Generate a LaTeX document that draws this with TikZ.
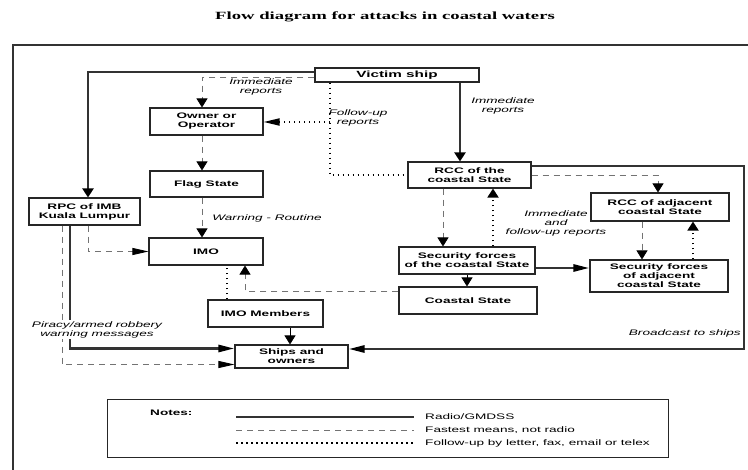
\documentclass[tikz,border=0pt]{standalone}
\usepackage{fontspec}
\setmainfont{Liberation Sans}[FakeStretch=1.7]
\newfontfamily\titlefont{Liberation Serif}[FakeStretch=1.7]
\usetikzlibrary{arrows.meta,calc}
\tikzset{
  vtip/.tip={Triangle[length=9pt,width=11pt,color=black]},
  htip/.tip={Triangle[length=16pt,width=7pt,color=black]},
  box/.style={draw=black!85, line width=1.1pt, inner sep=0pt, align=center, font=\fontsize{8}{9}\selectfont\bfseries},
  lab/.style={font=\fontsize{8}{9}\selectfont\itshape, align=center, inner sep=1pt},
  legtext/.style={font=\fontsize{8}{9}\selectfont, anchor=west, inner sep=0pt},
  radio/.style={draw=black!80, line width=2.6pt},
  fast/.style={draw=black!55, line width=0.8pt, dash pattern=on 6pt off 5pt},
  follow/.style={draw=black, line width=1.8pt, dash pattern=on 1.5pt off 3.5pt},
  plain/.style={draw=black, line width=0.8pt},
  frame/.style={draw=black!80, line width=1.2pt}
}
\begin{document}
\begin{tikzpicture}[x=1pt,y=-1pt]
\useasboundingbox (0,0) rectangle (748,470);

% title
\node[font=\titlefont\bfseries\fontsize{11}{12}\selectfont] (title) at (385,17) {Flow diagram for attacks in coastal waters};

% outer frame
\draw[frame] (13,470) -- (13,45) -- (748,45);

% nodes
\node[box, minimum width=164pt, minimum height=14pt, font=\fontsize{9}{10}\selectfont\bfseries] (victim) at (397,75) {Victim ship};
\node[box, minimum width=113pt, minimum height=27pt] (owner) at (206.5,121.5) {Owner or\\Operator};
\node[box, minimum width=113pt, minimum height=26pt] (flag) at (206.5,184) {Flag State};
\node[box, minimum width=111pt, minimum height=27pt] (rpc) at (84.5,211.5) {RPC of IMB\\Kuala Lumpur};
\node[box, minimum width=114pt, minimum height=27pt] (imo) at (206,251.5) {IMO};
\node[box, minimum width=115pt, minimum height=27pt] (members) at (265.5,313.5) {IMO Members};
\node[box, minimum width=113pt, minimum height=23pt] (ships) at (291.5,356.5) {Ships and\\owners};
\node[box, minimum width=123pt, minimum height=26pt] (rcc) at (469.5,175) {RCC of the\\coastal State};
\node[box, minimum width=138pt, minimum height=28pt] (rccadj) at (660,207) {RCC of adjacent\\coastal State};
\node[box, minimum width=136pt, minimum height=27pt] (sec) at (467,260.5) {Security forces\\of the coastal State};
\node[box, minimum width=138pt, minimum height=27pt] (coastal) at (468,300.5) {Coastal State};
\node[box, minimum width=138pt, minimum height=32pt] (secadj) at (659,276) {Security forces\\of adjacent\\coastal State};

% helper coordinates
\coordinate (xa) at (88,0);
\coordinate (xb) at (202,0);
\coordinate (xc) at (330,0);
\coordinate (xd) at (460,0);
\coordinate (xe) at (70,0);
\coordinate (xf) at (62,0);
\coordinate (xg) at (227,0);
\coordinate (xh) at (245,0);
\coordinate (xi) at (290,0);
\coordinate (xj) at (443,0);
\coordinate (xk) at (493,0);
\coordinate (xl) at (658,0);
\coordinate (xm) at (642,0);
\coordinate (xn) at (693,0);
\coordinate (fu) at (330,122);
\coordinate (bc) at (744,166);

% radio links
\draw[radio,-vtip] ([yshift=3pt]victim.west) -| (rpc.north -| xa);
\draw[radio,-vtip] (victim.south -| xd) -- (rcc.north -| xd);
\draw[radio,-htip] (rpc.south -| xe) |- ([yshift=8pt]ships.west);
\draw[radio,-htip] ([yshift=-7.5pt]sec.east) -- ([yshift=-7.5pt]sec.east -| secadj.west);
\draw[radio,-htip] ([yshift=9pt]rcc.east) -- (bc) |- ([yshift=7.5pt]ships.east);

% fastest means
\draw[fast,-vtip] ([yshift=-2pt]victim.west) -| (owner.north -| xb);
\draw[fast,-vtip] (owner.south -| xb) -- (flag.north -| xb);
\draw[fast,-vtip] (flag.south -| xb) -- (imo.north -| xb);
\draw[fast,-htip] (rpc.south -| xa) |- (imo.west);
\draw[fast,-htip] (rpc.south -| xf) |- ([yshift=-8pt]ships.west);
\draw[fast,-vtip] ([yshift=9.5pt]coastal.west) -| (imo.south -| xh);
\draw[fast,-vtip] (rcc.south -| xj) -- (sec.north -| xj);
\draw[fast,-vtip] (rcc.east) -| (rccadj.north -| xl);
\draw[fast,-vtip] (rccadj.south -| xm) -- (secadj.north -| xm);

% follow-up
\draw[follow] (victim.south -| xc) |- (rcc.west);
\draw[follow,-htip] (fu) -- (owner.east |- fu);
\draw[follow] (members.north -| xg) -- (imo.south -| xg);
\draw[follow,-vtip] (sec.north -| xk) -- (rcc.south -| xk);
\draw[follow,-vtip] (secadj.north -| xn) -- (rccadj.south -| xn);

% plain short arrows
\draw[plain,-vtip] (members.south -| xi) -- (ships.north -| xi);
\draw[plain,-vtip] (sec.south) -- (sec.south |- coastal.north);

% labels
\node[lab] (l1) at (261,87) {Immediate\\reports};
\node[lab] (l2) at (503,106) {Immediate\\reports};
\node[lab] (l3) at (358,118) {Follow-up\\reports};
\node[lab] (l4) at (267,218) {Warning - Routine};
\node[lab, fill=white] (l5) at (97,329.5) {Piracy/armed robbery\\warning messages};
\node[lab] (l6) at (556,223) {Immediate\\and\\follow-up reports};
\node[lab, anchor=east] (l7) at (742,333) {Broadcast to ships};

% legend
\node[draw=black!85, line width=1pt, minimum width=561pt, minimum height=58pt, inner sep=0pt] (legend) at (387.5,429) {};
\node[font=\fontsize{8}{9}\selectfont\bfseries, anchor=west, inner sep=0pt] (notes) at (150,413) {Notes:};
\node[legtext] (t1) at (425,417) {Radio/GMDSS};
\node[legtext] (t2) at (425,430) {Fastest means, not radio};
\node[legtext] (t3) at (425,443) {Follow-up by letter, fax, email or telex};
\coordinate (ls) at (236,0);
\coordinate (le) at (414,0);
\draw[radio] (t1.west -| ls) -- (t1.west -| le);
\draw[fast] (t2.west -| ls) -- (t2.west -| le);
\draw[follow] (t3.west -| ls) -- (t3.west -| le);
\end{tikzpicture}
\end{document}
